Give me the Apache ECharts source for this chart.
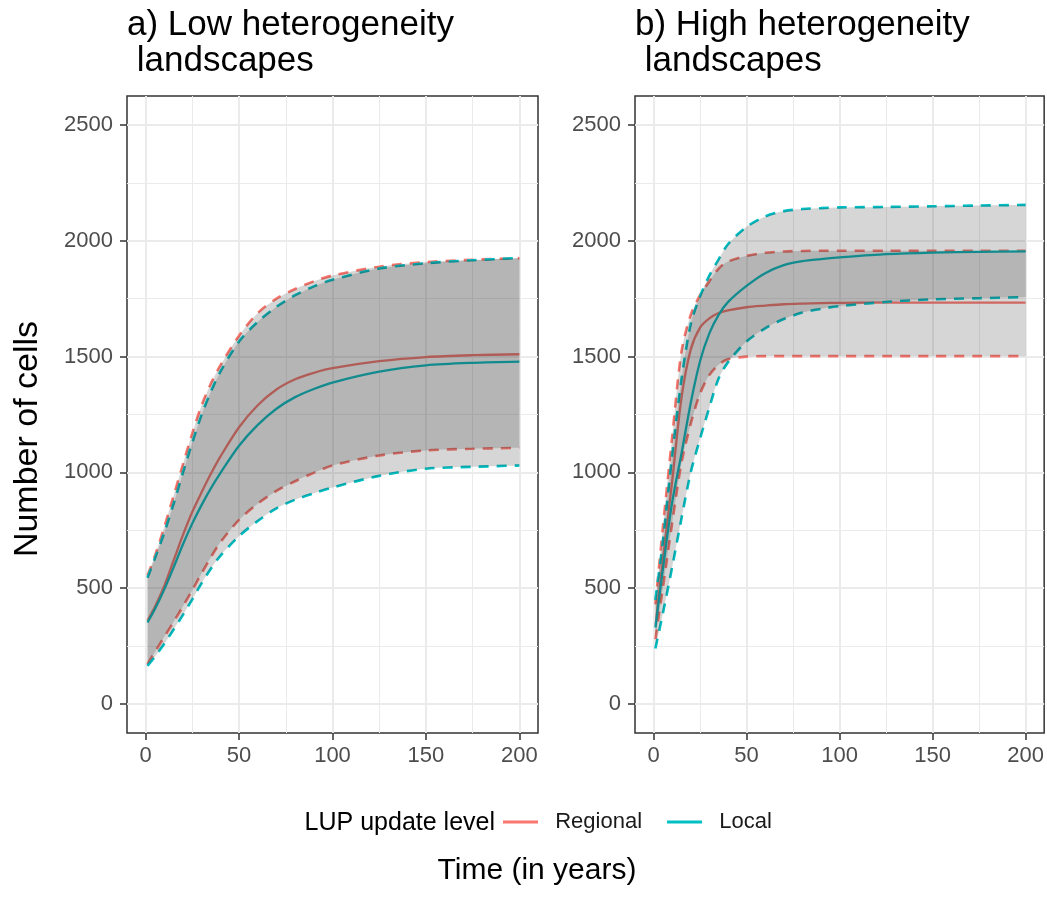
<!DOCTYPE html>
<html>
<head>
<meta charset="utf-8">
<script src="https://cdn.jsdelivr.net/npm/echarts@6/dist/echarts.min.js"></script>
<style>html,body{margin:0;padding:0;background:#fff}#c{width:1047px;height:901px}</style>
</head>
<body>
<div id="c"></div>
<script>
// ---- data ----
const years = [1, 5, 10, 15, 20, 25, 30, 35, 40, 50, 60, 70, 80, 90, 100, 125, 150, 175, 200];

// a) Low heterogeneity
const lowRegionalMean  = [360, 420, 510, 620, 730, 830, 915, 995, 1068, 1195, 1290, 1358, 1402, 1430, 1450, 1480, 1498, 1506, 1510];
const lowRegionalUpper = [555, 640, 765, 900, 1035, 1170, 1290, 1385, 1462, 1590, 1688, 1750, 1792, 1825, 1850, 1888, 1908, 1918, 1925];
const lowRegionalLower = [172, 225, 290, 355, 422, 492, 565, 635, 698, 795, 865, 920, 962, 998, 1030, 1073, 1095, 1102, 1106];
const lowLocalMean     = [352, 410, 495, 590, 690, 780, 860, 932, 997, 1115, 1205, 1275, 1325, 1360, 1388, 1435, 1462, 1473, 1478];
const lowLocalUpper    = [545, 630, 740, 865, 1000, 1130, 1250, 1350, 1435, 1565, 1650, 1715, 1765, 1803, 1832, 1880, 1903, 1916, 1926];
const lowLocalLower    = [165, 205, 260, 322, 385, 452, 522, 585, 640, 725, 790, 845, 882, 910, 935, 985, 1016, 1024, 1030];

// b) High heterogeneity
const highRegionalMean  = [335, 620, 960, 1320, 1530, 1625, 1665, 1688, 1700, 1713, 1720, 1726, 1729, 1731, 1732, 1733, 1733, 1733, 1733];
const highRegionalUpper = [430, 760, 1150, 1520, 1680, 1765, 1825, 1880, 1910, 1935, 1948, 1954, 1956, 1957, 1957, 1957, 1957, 1957, 1957];
const highRegionalLower = [280, 500, 780, 1040, 1210, 1340, 1420, 1465, 1488, 1500, 1502, 1502, 1502, 1502, 1502, 1502, 1502, 1502, 1502];
const highLocalMean     = [330, 580, 870, 1080, 1300, 1480, 1600, 1680, 1735, 1805, 1860, 1895, 1912, 1921, 1928, 1942, 1949, 1952, 1954];
const highLocalUpper    = [450, 700, 1070, 1400, 1640, 1760, 1850, 1920, 1985, 2060, 2105, 2128, 2137, 2141, 2144, 2146, 2149, 2152, 2155];
const highLocalLower    = [240, 390, 590, 800, 1000, 1145, 1280, 1405, 1475, 1565, 1622, 1662, 1690, 1706, 1718, 1736, 1747, 1752, 1757];

const xMajor = [0, 50, 100, 150, 200];
const xMinor = [25, 75, 125, 175];
const yMajor = [0, 500, 1000, 1500, 2000, 2500];
const yMinor = [250, 750, 1250, 1750, 2250];

const panelTitles = ['a) Low heterogeneity\n landscapes', 'b) High heterogeneity\n landscapes'];
const groupNames = ['Regional', 'Local'];
const legendTitle = 'LUP update level';
const xTitle = 'Time (in years)';
const yTitle = 'Number of cells';

// ---- styling ----
const FONT = '"Liberation Sans", Arial, sans-serif';
const COLORS = { Regional: '#F8766D', Local: '#00BFC4' };
const RIBBON = 'rgba(51,51,51,0.2)';
const SMOOTH = 0.3;
const XMIN = -9.95, XMAX = 209.95, YMIN = -125, YMAX = 2625;

const panels = [
  { Regional: [lowRegionalMean, lowRegionalLower, lowRegionalUpper], Local: [lowLocalMean, lowLocalLower, lowLocalUpper] },
  { Regional: [highRegionalMean, highRegionalLower, highRegionalUpper], Local: [highLocalMean, highLocalLower, highLocalUpper] }
];
const gridLefts = [127, 635];

const pairs = arr => years.map((x, i) => [x, arr[i]]);

const grids = [], xAxes = [], yAxes = [], series = [];
panels.forEach((panel, p) => {
  grids.push({ left: gridLefts[p], top: 96, width: 411, height: 637, show: true,
    borderColor: '#333333', borderWidth: 1.5, backgroundColor: 'transparent', containLabel: false });
  const baseX = { gridIndex: p, type: 'value', min: XMIN, max: XMAX, axisLine: { show: false, onZero: false } };
  const baseY = { gridIndex: p, type: 'value', min: YMIN, max: YMAX, axisLine: { show: false, onZero: false } };
  xAxes.push(Object.assign({}, baseX, {
    position: 'bottom',
    axisTick: { show: true, length: 7, customValues: xMajor, lineStyle: { color: '#333333', width: 1.5 } },
    axisLabel: { customValues: xMajor, fontSize: 22, color: '#4d4d4d', margin: 12, fontFamily: FONT, formatter: v => String(v) },
    splitLine: { show: true, lineStyle: { color: '#ebebeb', width: 2 } }
  }));
  xAxes.push(Object.assign({}, baseX, {
    position: 'top',
    axisTick: { show: false, customValues: xMinor },
    axisLabel: { show: false, customValues: xMinor },
    splitLine: { show: true, lineStyle: { color: '#ebebeb', width: 1 } }
  }));
  yAxes.push(Object.assign({}, baseY, {
    position: 'left',
    axisTick: { show: true, length: 7, customValues: yMajor, lineStyle: { color: '#333333', width: 1.5 } },
    axisLabel: { customValues: yMajor, fontSize: 22, color: '#4d4d4d', margin: 14, fontFamily: FONT, formatter: v => String(v) },
    splitLine: { show: true, lineStyle: { color: '#ebebeb', width: 2 } }
  }));
  yAxes.push(Object.assign({}, baseY, {
    position: 'right',
    axisTick: { show: false, customValues: yMinor },
    axisLabel: { show: false, customValues: yMinor },
    splitLine: { show: true, lineStyle: { color: '#ebebeb', width: 1 } }
  }));
  const xi = 2 * p, yi = 2 * p;
  const common = { xAxisIndex: xi, yAxisIndex: yi, showSymbol: false, symbol: 'none', animation: false, smooth: SMOOTH };
  groupNames.forEach(g => {
    const [mean, lower, upper] = panel[g];
    const col = COLORS[g];
    // mean line
    series.push(Object.assign({}, common, { type: 'line', name: g, color: col, z: 2,
      itemStyle: { color: col }, lineStyle: { color: col, width: 2.3 }, data: pairs(mean) }));
    // dashed bounds
    [lower, upper].forEach((b, k) => {
      series.push(Object.assign({}, common, { type: 'line', name: g + (k ? ' upper' : ' lower'), color: col, z: 2,
        lineStyle: { color: col, width: 2.6, type: [10, 8] }, data: pairs(b) }));
    });
    // ribbon between lower and upper, mapped through the axes; end points doubled so the
    // polygon's bezier smoothing matches the open smoothed lines
    series.push({
      type: 'custom', name: g + ' ribbon', xAxisIndex: xi, yAxisIndex: yi, z: 3, silent: true, animation: false,
      data: [[years[0], lower[0]]],
      renderItem: (params, api) => {
        if (params.dataIndex !== 0) return;
        const up = years.map((x, i) => api.coord([x, upper[i]]));
        const lo = years.map((x, i) => api.coord([x, lower[i]])).reverse();
        const pts = [up[0]].concat(up, [up[up.length - 1]], [lo[0]], lo, [lo[lo.length - 1]]);
        return { type: 'polygon', shape: { points: pts, smooth: SMOOTH }, style: { fill: RIBBON, stroke: null } };
      }
    });
  });
});

const option = {
  animation: false,
  backgroundColor: '#ffffff',
  title: panelTitles.map((t, p) => ({ text: t, left: gridLefts[p], top: 7, padding: 0,
    textStyle: { fontSize: 35, lineHeight: 36, fontWeight: 'normal', color: '#000000', fontFamily: FONT } })),
  legend: {
    data: groupNames, left: 503, top: 811, padding: 0, itemWidth: 35, itemHeight: 3, itemGap: 25,
    icon: 'rect', formatter: '  {name}', selectedMode: false,
    textStyle: { fontSize: 22, color: '#1a1a1a', fontFamily: FONT }
  },
  grid: grids, xAxis: xAxes, yAxis: yAxes, series: series,
  graphic: [
    { type: 'text', x: 495, y: 823, style: { text: legendTitle, fontSize: 25, fontFamily: FONT, fill: '#000',
      textAlign: 'right', textVerticalAlign: 'middle', align: 'right', verticalAlign: 'middle' } },
    { type: 'text', x: 537, y: 871, style: { text: xTitle, fontSize: 30, fontFamily: FONT, fill: '#000',
      textAlign: 'center', textVerticalAlign: 'middle', align: 'center', verticalAlign: 'middle' } },
    { type: 'text', x: 28, y: 439, rotation: Math.PI / 2, style: { text: yTitle, fontSize: 34, fontFamily: FONT, fill: '#000',
      textAlign: 'center', textVerticalAlign: 'middle', align: 'center', verticalAlign: 'middle' } }
  ]
};
const chart = echarts.init(document.getElementById('c'), null, { renderer: 'canvas' });
chart.setOption(option);
</script>
</body>
</html>
